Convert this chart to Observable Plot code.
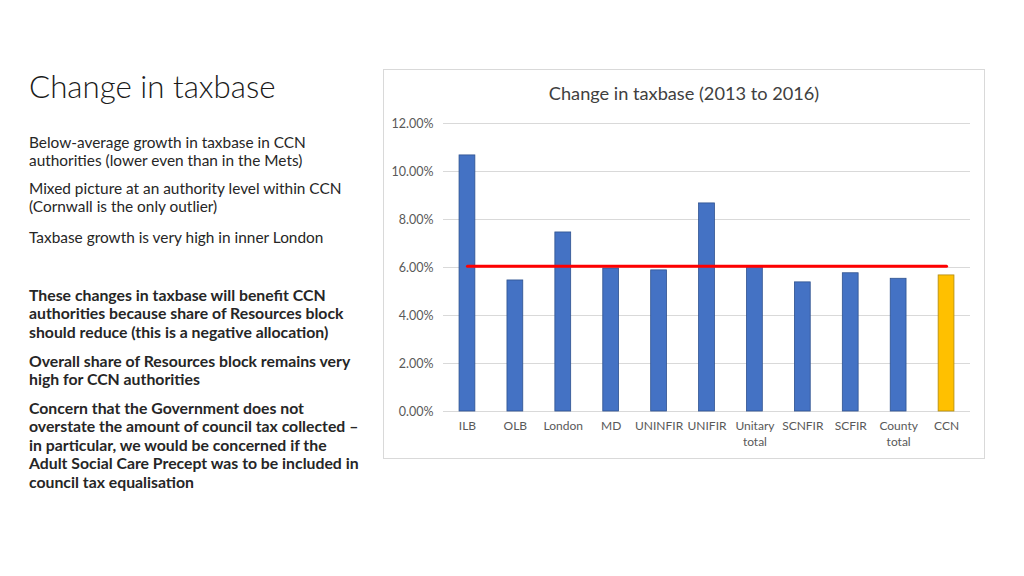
<!DOCTYPE html>
<html>
<head>
<meta charset="utf-8">
<script src="https://cdn.jsdelivr.net/npm/d3@7"></script>
<script src="https://cdn.jsdelivr.net/npm/@observablehq/plot@0.6"></script>
<style>
  html, body { margin: 0; padding: 0; background: #fff; }
  body { width: 1024px; height: 576px; position: relative; overflow: hidden; font-family: Lato, "Open Sans", sans-serif; color: #262626; }
  #title { position: absolute; left: 29px; top: 67px; font-size: 31.3px; font-weight: 300; color: #1a1a1a; white-space: nowrap; }
  .p { position: absolute; left: 29px; font-size: 15.4px; line-height: 18.4px; white-space: nowrap; }
  .b { font-weight: bold; font-size: 15.8px; }
  #box { position: absolute; left: 383px; top: 69px; width: 600px; height: 388px; border: 1.5px solid #d9d9d9; }
  #ctitle { position: absolute; left: 0; width: 600px; top: 12px; text-align: center; font-size: 18.2px; color: #404040; }
  #chart { position: absolute; left: 0; top: 36px; }
</style>
</head>
<body>
<div id="title">Change in taxbase</div>
<div class="p" style="top:133px">Below-average growth in taxbase in CCN<br>authorities (lower even than in the Mets)</div>
<div class="p" style="top:179px">Mixed picture at an authority level within CCN<br>(Cornwall is the only outlier)</div>
<div class="p" style="top:228px">Taxbase growth is very high in inner London</div>
<div class="p b" style="top:286px">These changes in taxbase will benefit CCN<br>authorities because share of Resources block<br>should reduce (this is a negative allocation)</div>
<div class="p b" style="top:352px">Overall share of Resources block remains very<br>high for CCN authorities</div>
<div class="p b" style="top:399px">Concern that the Government does not<br>overstate the amount of council tax collected –<br>in particular, we would be concerned if the<br>Adult Social Care Precept was to be included in<br>council tax equalisation</div>
<div id="box">
  <div id="ctitle">Change in taxbase (2013 to 2016)</div>
  <div id="chart"></div>
</div>
<script>
const categories = ["ILB", "OLB", "London", "MD", "UNINFIR", "UNIFIR", "Unitary total", "SCNFIR", "SCFIR", "County total", "CCN"];
const changePct = [10.67, 5.46, 7.46, 5.96, 5.88, 8.67, 6.03, 5.38, 5.76, 5.53, 5.67];
const averagePct = [6.05, 6.05, 6.05, 6.05, 6.05, 6.05, 6.05, 6.05, 6.05, 6.05, 6.05];
const yTicks = [0, 2, 4, 6, 8, 10, 12];

const rows = categories.map((c, i) => ({category: c, value: changePct[i], avg: averagePct[i]}));

const chart = Plot.plot({
  width: 600,
  height: 350,
  marginLeft: 59,
  marginRight: 14,
  marginTop: 17,
  marginBottom: 45,
  style: {fontFamily: "Lato, 'Open Sans', sans-serif", fontSize: "12px", color: "#595959", background: "transparent"},
  x: {domain: categories, paddingInner: 0.67, paddingOuter: 0.335, round: false, label: null},
  y: {domain: [0, 12], label: null},
  marks: [
    Plot.gridY(yTicks, {stroke: "#d9d9d9", strokeOpacity: 1, strokeWidth: 1}),
    Plot.barY(rows, {x: "category", y: "value", fill: d => d.category === "CCN" ? "#ffc000" : "#4472c4", stroke: d => d.category === "CCN" ? "#b08a10" : "#2f528f", strokeWidth: 0.8}),
    Plot.line(rows, {x: "category", y: "avg", stroke: "#ff0000", strokeWidth: 3}),
    Plot.axisX({tickSize: 0, tickPadding: 7, lineHeight: 1.35, fontSize: 12, tickFormat: d => d.replace(" ", "\n")}),
    Plot.axisY(yTicks, {tickSize: 0, tickPadding: 10, fontSize: 12.5, tickFormat: d => d.toFixed(2) + "%"})
  ]
});
document.getElementById("chart").appendChild(chart);
</script>
</body>
</html>
